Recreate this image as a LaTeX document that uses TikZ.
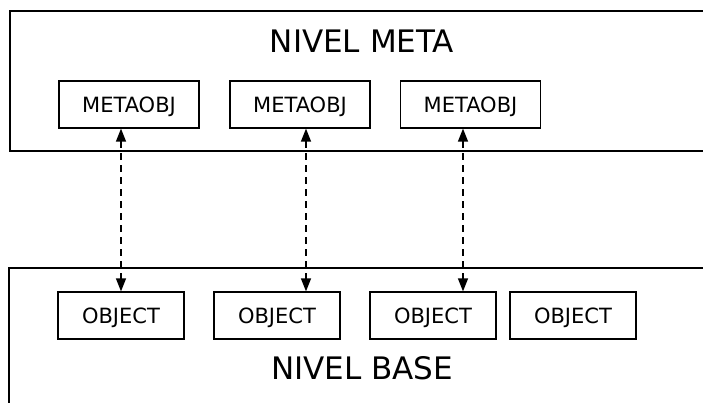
\documentclass[tikz,border=0pt]{standalone}
\usepackage{fontspec}
\setmainfont{DejaVu Sans}
\usetikzlibrary{arrows.meta}
\begin{document}
\begin{tikzpicture}[x=1pt,y=-1pt,
  caja/.style={draw,line width=1.2pt,inner sep=0pt,minimum height=47pt,
    text height=15.3pt,text depth=0pt,font=\fontsize{21}{25}\selectfont},
  nivel/.style={inner sep=0pt,text height=22.6pt,text depth=0pt,
    font=\fontsize{31}{36}\selectfont},
  enlace/.style={line width=1.2pt,dash pattern=on 7pt off 5pt,
    {Triangle[length=13pt,width=10pt]}-{Triangle[length=13pt,width=10pt]}}]
  \useasboundingbox (0,0) rectangle (703,403);
  % nivel meta
  \draw[line width=1.6pt] (703,11) -- (10,11) -- (10,151) -- (703,151);
  \node[nivel] (meta) at (362,41) {NIVEL META};
  \node[caja,minimum width=140pt] (mo1) at (129,104.5) {METAOBJ};
  \node[caja,minimum width=140pt] (mo2) at (300,104.5) {METAOBJ};
  \node[caja,minimum width=140pt] (mo3) at (470.5,104.5) {METAOBJ};
  % nivel base
  \draw[line width=1.6pt] (703,268) -- (9,268) -- (9,403);
  \node[caja,minimum width=126pt] (ob1) at (121,315.5) {OBJECT};
  \node[caja,minimum width=126pt] (ob2) at (277,315.5) {OBJECT};
  \node[caja,minimum width=126pt] (ob3) at (433,315.5) {OBJECT};
  \node[caja,minimum width=126pt] (ob4) at (573,315.5) {OBJECT};
  \node[nivel] (base) at (362,368) {NIVEL BASE};
  % enlaces
  \draw[enlace] (mo1.south -| ob1.north) -- (ob1.north);
  \draw[enlace] ([xshift=6pt]mo2.south) -- ([xshift=6pt]mo2.south |- ob2.north);
  \draw[enlace] ([xshift=-7.5pt]mo3.south) -- ([xshift=-7.5pt]mo3.south |- ob3.north);
\end{tikzpicture}
\end{document}
